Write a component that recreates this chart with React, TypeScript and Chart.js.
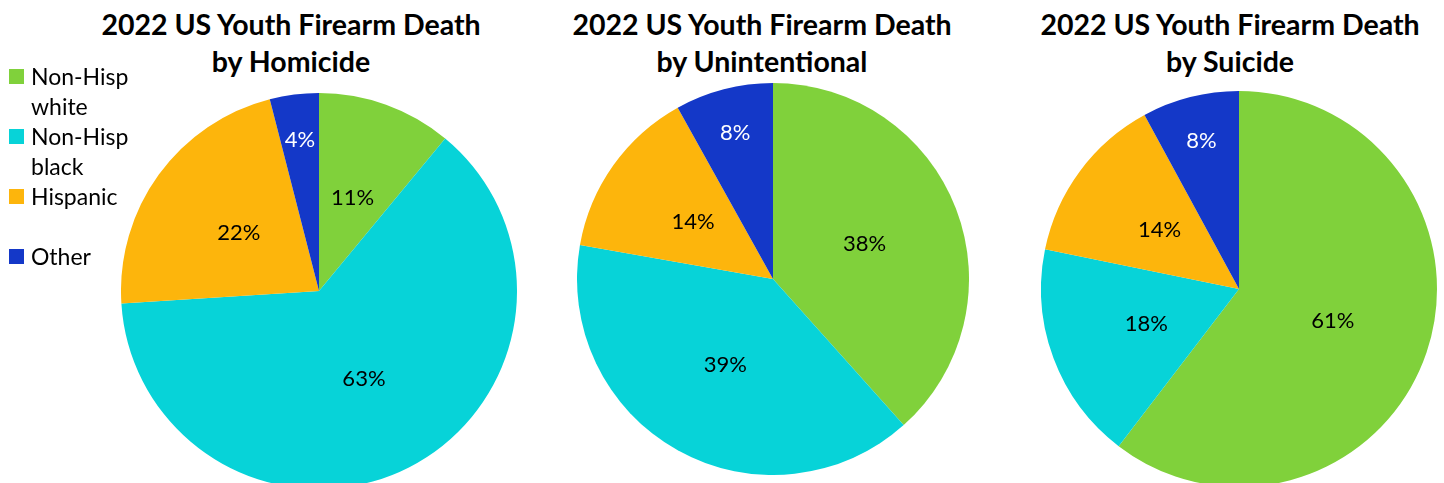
import React, { useEffect, useRef } from "react";
import { Chart, registerables } from "chart.js";

Chart.register(...registerables);

const categories = ["Non-Hisp white", "Non-Hisp black", "Hispanic", "Other"];
const legendLines = [["Non-Hisp", "white"], ["Non-Hisp", "black"], ["Hispanic", ""], ["Other"]];
const colors = ["#80d13b", "#07d3d8", "#fdb50c", "#1438c8"];
const labelColors = ["#000000", "#000000", "#000000", "#ffffff"];
const labelRadius = [0.5, 0.5, 0.5, 0.77];

const titles = [
  ["2022 US Youth Firearm Death", "by Homicide"],
  ["2022 US Youth Firearm Death", "by Unintentional"],
  ["2022 US Youth Firearm Death", "by Suicide"],
];
const homicide = [11, 63, 22, 4];
const unintentional = [38, 39, 14, 8];
const suicide = [61, 18, 14, 8];
const seriesList = [homicide, unintentional, suicide];

const FONT = "Lato, 'Open Sans', sans-serif";

// layout (pixel geometry)
const pies = [
  { cx: 319, cy: 291, r: 198, titleX: 291 },
  { cx: 773, cy: 279, r: 196, titleX: 762 },
  { cx: 1239, cy: 289, r: 198, titleX: 1230 },
];

const labelPlugin = {
  id: "sliceLabels",
  afterDatasetsDraw(chart: any) {
    const ctx = chart.ctx;
    const meta = chart.getDatasetMeta(0);
    const data = chart.data.datasets[0].data;
    ctx.save();
    ctx.font = `22px ${FONT}`;
    ctx.textAlign = "center";
    ctx.textBaseline = "middle";
    meta.data.forEach((arc: any, i: number) => {
      const { x, y, startAngle, endAngle, outerRadius } = arc.getProps(["x", "y", "startAngle", "endAngle", "outerRadius"], true);
      const mid = (startAngle + endAngle) / 2;
      const rr = outerRadius * labelRadius[i];
      ctx.fillStyle = labelColors[i];
      ctx.fillText(`${data[i]}%`, x + Math.cos(mid) * rr, y + Math.sin(mid) * rr);
    });
    ctx.restore();
  },
};

function Pie({ values, geom }: { values: number[]; geom: any }) {
  const ref = useRef<HTMLCanvasElement>(null);
  useEffect(() => {
    const chart = new Chart(ref.current!, {
      type: "pie",
      data: {
        labels: categories,
        datasets: [{ data: values, backgroundColor: colors, borderWidth: 0 }],
      },
      options: {
        animation: false,
        responsive: false,
        devicePixelRatio: 1,
        layout: { padding: 0 },
        plugins: { legend: { display: false }, title: { display: false }, tooltip: { enabled: false } },
      },
      plugins: [labelPlugin],
    });
    return () => chart.destroy();
  }, []);
  const size = geom.r * 2;
  return (
    <canvas
      ref={ref}
      width={size}
      height={size}
      style={{ position: "absolute", left: geom.cx - geom.r, top: geom.cy - geom.r, width: size, height: size }}
    />
  );
}

export default function App() {
  useEffect(() => {
    document.body.style.margin = "0";
  }, []);
  const legendTops = [61, 121, 181, 241];
  return (
    <div style={{ position: "relative", width: 1444, height: 483, overflow: "hidden", background: "#fff", fontFamily: FONT }}>
      {pies.map((g, i) => (
        <Pie key={i} values={seriesList[i]} geom={g} />
      ))}
      {pies.map((g, i) => (
        <div
          key={"t" + i}
          style={{
            position: "absolute",
            left: g.titleX - 250,
            width: 500,
            top: 6,
            textAlign: "center",
            fontWeight: 700,
            fontSize: 28.5,
            lineHeight: "37px",
            color: "#000",
          }}
        >
          {titles[i].map((l, j) => (
            <div key={j}>{l}</div>
          ))}
        </div>
      ))}
      {categories.map((c, i) => (
        <div key={"l" + i} style={{ position: "absolute", left: 9, top: legendTops[i], fontSize: 23, lineHeight: "30px", color: "#000" }}>
          <div style={{ position: "absolute", left: 0, top: 8, width: 15, height: 15, background: colors[i] }} />
          <div style={{ marginLeft: 22 }}>
            {legendLines[i].map((l, j) => (
              <div key={j} style={{ height: 30 }}>{l}</div>
            ))}
          </div>
        </div>
      ))}
    </div>
  );
}
